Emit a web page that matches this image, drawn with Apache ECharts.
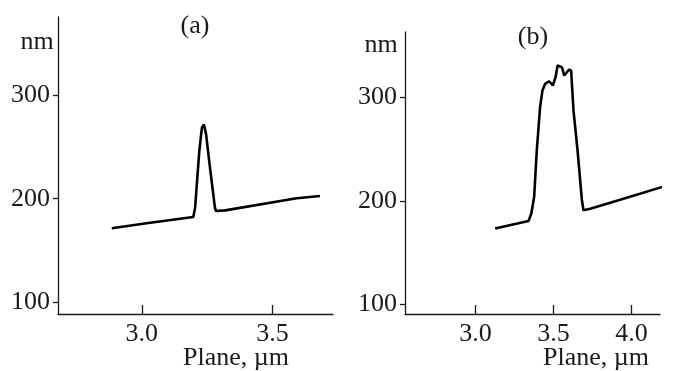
<!DOCTYPE html>
<html>
<head>
<meta charset="utf-8">
<script src="https://cdn.jsdelivr.net/npm/echarts@6/dist/echarts.min.js"></script>
<style>
  html, body { margin: 0; padding: 0; background: #fff; }
  #chart { width: 673px; height: 371px; }
</style>
</head>
<body>
<div id="chart"></div>
<script>
// Height profiles along the scan plane (position in µm, height in nm)
const planeA = [2.885, 3.032, 3.197, 3.204, 3.220, 3.230, 3.238, 3.246, 3.261, 3.280, 3.284, 3.319, 3.593, 3.682];
const heightA = [171.5, 176.9, 182.4, 191.3, 245.9, 268.3, 271.5, 262.2, 229.8, 191.3, 188.2, 188.8, 200.4, 202.6];

const planeB = [3.126, 3.340, 3.358, 3.376, 3.393, 3.414, 3.429, 3.446, 3.472, 3.496, 3.513, 3.526, 3.538, 3.554, 3.569, 3.586, 3.600, 3.613, 3.628, 3.654, 3.682, 3.692, 3.735, 3.927, 4.267];
const heightB = [173.4, 180.7, 187.9, 203.9, 248.8, 290.4, 306.5, 312.9, 315.5, 311.4, 319.4, 330.7, 332.3, 329.0, 321.0, 324.2, 326.7, 325.7, 287.4, 248.8, 200.7, 191.0, 192.6, 201.3, 216.8];

const heightTicks = [100, 200, 300];
const planeTicksA = [3.0, 3.5];
const planeTicksB = [3.0, 3.5, 4.0];

const FONT = '"Liberation Serif", "DejaVu Serif", serif';
const INK = '#1a1a1a';

function zip(xs, ys) { return xs.map((x, i) => [x, ys[i]]); }

function xAxis(gridIndex, min, max, ticks) {
  return {
    type: 'value', gridIndex, min, max,
    axisLine: { show: true, lineStyle: { color: INK, width: 1.3 } },
    axisTick: { show: true, inside: true, length: 9, customValues: ticks, lineStyle: { color: INK, width: 1.3 } },
    axisLabel: { customValues: ticks, margin: 7, color: INK, fontFamily: FONT, fontSize: 26,
                 formatter: v => v.toFixed(1) },
    splitLine: { show: false }
  };
}

function yAxis(gridIndex, min, max) {
  return {
    type: 'value', gridIndex, min, max,
    axisLine: { show: true, lineStyle: { color: INK, width: 1.3 } },
    axisTick: { show: true, length: 5, customValues: heightTicks, lineStyle: { color: INK, width: 1.3 } },
    axisLabel: { customValues: heightTicks, margin: 8, color: INK, fontFamily: FONT, fontSize: 26 },
    splitLine: { show: false }
  };
}

function label(text, x, y, align) {
  return { type: 'text', x, y,
    style: { text, fill: INK, font: '26px ' + FONT, align: align || 'center', verticalAlign: 'middle' } };
}

const chart = echarts.init(document.getElementById('chart'), null, { renderer: 'canvas' });
chart.setOption({
  animation: false,
  backgroundColor: '#fff',
  grid: [
    { left: 58, right: 340, top: 17, bottom: 57 },
    { left: 405, right: 13, top: 32, bottom: 57 }
  ],
  xAxis: [ xAxis(0, 2.679, 3.732, planeTicksA), xAxis(1, 2.549, 4.182, planeTicksB) ],
  yAxis: [ yAxis(0, 89, 375), yAxis(1, 91, 363) ],
  series: [
    { type: 'line', xAxisIndex: 0, yAxisIndex: 0, data: zip(planeA, heightA), showSymbol: false,
      clip: false, lineStyle: { color: '#000', width: 2.6 } },
    { type: 'line', xAxisIndex: 1, yAxisIndex: 1, data: zip(planeB, heightB), showSymbol: false,
      clip: false, lineStyle: { color: '#000', width: 2.6 } }
  ],
  graphic: [
    label('(a)', 195, 26),
    label('nm', 37, 42),
    label('Plane, µm', 236, 358),
    label('(b)', 533, 37),
    label('nm', 381, 45),
    label('Plane, µm', 596, 358)
  ]
});
</script>
</body>
</html>
